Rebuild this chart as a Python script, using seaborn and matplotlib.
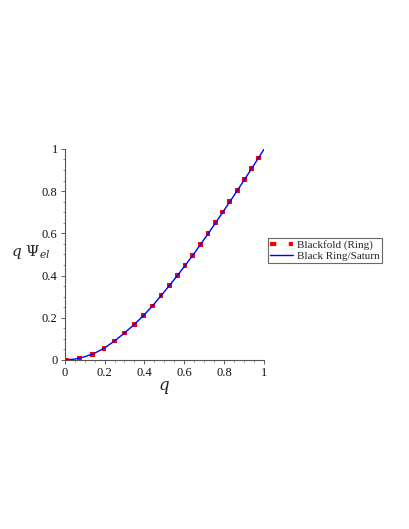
import numpy as np
import pandas as pd
import matplotlib
matplotlib.use("Agg")
import matplotlib.pyplot as plt
from matplotlib.lines import Line2D
import seaborn as sns

# Blackfold (Ring) sample points
q_pts = [0.012, 0.075, 0.138, 0.197, 0.25, 0.3, 0.35, 0.397, 0.44, 0.483, 0.525, 0.565,
         0.603, 0.642, 0.68, 0.718, 0.757, 0.793, 0.828, 0.865, 0.902, 0.937, 0.972]
psi_pts = [0.0, 0.008, 0.027, 0.055, 0.09, 0.128, 0.169, 0.212, 0.256, 0.305, 0.352, 0.4,
           0.447, 0.496, 0.547, 0.599, 0.65, 0.701, 0.75, 0.803, 0.855, 0.907, 0.957]

# Black Ring/Saturn curve
q_line = [0.0, 0.05, 0.1, 0.15, 0.2, 0.25, 0.3, 0.35, 0.4, 0.45, 0.5, 0.55, 0.6,
          0.65, 0.7, 0.75, 0.8, 0.85, 0.9, 0.95, 1.0]
psi_line = [0.0, 0.004, 0.015, 0.032, 0.057, 0.09, 0.128, 0.169, 0.215, 0.267, 0.324,
            0.382, 0.443, 0.506, 0.573, 0.641, 0.711, 0.781, 0.853, 0.926, 1.0]

tick_vals = [0, 0.2, 0.4, 0.6, 0.8, 1]
tick_labels = ["0", "0.2", "0.4", "0.6", "0.8", "1"]

sns.set_style("white")
plt.rcParams['font.family'] = ['Liberation Serif', 'DejaVu Serif']
plt.rcParams['mathtext.fontset'] = 'dejavuserif'

fig = plt.figure(figsize=(4.09, 5.29), dpi=100)
ax = fig.add_axes([0.158, 0.3195, 0.488, 0.399])

line_df = pd.DataFrame({"q": q_line, "psi": psi_line})
pts_df = pd.DataFrame({"q": q_pts, "psi": psi_pts})

sns.lineplot(data=line_df, x="q", y="psi", ax=ax, color="#0000ff", lw=1.0, zorder=2)
sns.scatterplot(data=pts_df, x="q", y="psi", ax=ax, color="#ff0000", marker="s", s=12,
                edgecolor="none", zorder=1)

ax.set_xlim(0, 1)
ax.set_ylim(0, 1)
ax.set_xticks(tick_vals, tick_labels)
ax.set_yticks(tick_vals, tick_labels)
ax.set_xticks(np.arange(0, 1.001, 0.05), minor=True)
ax.set_yticks(np.arange(0, 1.001, 0.05), minor=True)
ax.tick_params(axis="both", which="major", length=3, width=0.6, labelsize=9, pad=2,
               colors="#444444", labelcolor="#111111", bottom=True, left=True)
ax.tick_params(axis="both", which="minor", length=1.5, width=0.5, bottom=True, left=True,
               colors="#666666")

for s in ["top", "right"]:
    ax.spines[s].set_visible(False)
for s in ["left", "bottom"]:
    ax.spines[s].set_color("#555555")
    ax.spines[s].set_linewidth(0.8)

ax.set_xlabel("$q$", fontsize=12, labelpad=0)
ax.set_ylabel(r"$q\ \Psi_{el}$", fontsize=11, rotation=0, ha="center", va="center")
ax.yaxis.set_label_coords(-0.17, 0.51)

h_pts = Line2D([], [], color="#ff0000", ls=(0, (1.5, 3)), lw=3)
h_line = Line2D([], [], color="#0000ff", lw=1.0)
leg = ax.legend([h_pts, h_line], ["Blackfold (Ring)", "Black Ring/Saturn"],
                loc="center left", bbox_to_anchor=(1.02, 0.52), frameon=True,
                fancybox=False, fontsize=8, handlelength=2.0, handletextpad=0.4,
                borderpad=0.2, labelspacing=0.1, borderaxespad=0)
leg.get_frame().set_edgecolor("#444444")
leg.get_frame().set_linewidth(0.8)

fig.savefig("out.png", dpi=100)
